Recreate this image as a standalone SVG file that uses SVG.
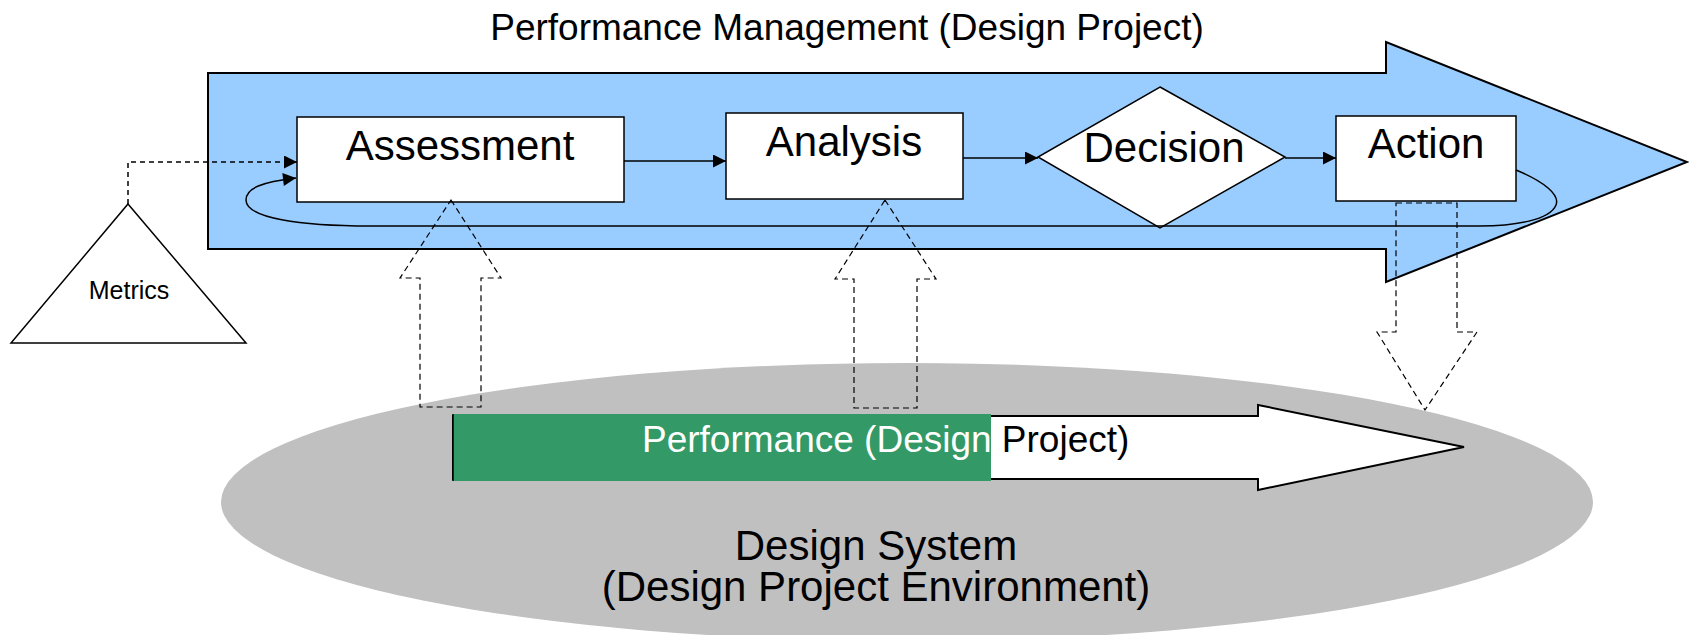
<svg xmlns="http://www.w3.org/2000/svg" width="1689" height="635" viewBox="0 0 1689 635">
<defs>
<style>
text{font-family:"Liberation Sans",Arial,sans-serif;fill:#000}
.box{fill:#fff;stroke:#000;stroke-width:1.5}
.lbl{font-size:42px;text-anchor:middle}
.conn{fill:none;stroke:#000;stroke-width:1.5}
.dash{fill:none;stroke:#000;stroke-width:1.2;stroke-dasharray:6,4}
</style>
<marker id="ah" viewBox="0 0 10 10" refX="10" refY="5" markerWidth="17" markerHeight="13" markerUnits="userSpaceOnUse" orient="auto">
<path d="M0,0 L10,5 L0,10 Z" fill="#000"/>
</marker>
</defs>
<rect width="1689" height="635" fill="#fff"/>
<text x="847" y="40" font-size="37" text-anchor="middle">Performance Management (Design Project)</text>
<g id="pm-arrow">
<polygon points="208,73 1386,73 1386,42 1687,162 1386,282 1386,249 208,249" fill="#99CCFF" stroke="#000" stroke-width="2"/>
</g>
<g id="design-system">
<ellipse cx="907" cy="502" rx="686" ry="139" fill="#C0C0C0"/>
<text class="lbl" x="876" y="560">Design System</text>
<text class="lbl" x="876" y="601">(Design Project Environment)</text>
</g>
<g id="performance-arrow">
<polygon points="453,416 1258,416 1258,405 1464,447 1258,490 1258,479 453,479" fill="#fff" stroke="#000" stroke-width="2"/>
<rect x="453" y="414" width="538" height="67" fill="#339966"/>
<line x1="453" y1="414" x2="453" y2="481" stroke="#000" stroke-width="1.5"/>
<text x="642" y="452" font-size="37"><tspan fill="#fff">Performance (Design</tspan><tspan fill="#000"> Project)</tspan></text>
</g>
<g id="assessment">
<rect class="box" x="297" y="117" width="327" height="85"/>
<text class="lbl" x="460" y="160">Assessment</text>
</g>
<g id="analysis">
<rect class="box" x="726" y="113" width="237" height="86"/>
<text class="lbl" x="844" y="156">Analysis</text>
</g>
<g id="decision">
<polygon class="box" points="1160,87 1285,157 1160,228 1038,157"/>
<text class="lbl" x="1164" y="162">Decision</text>
</g>
<g id="action">
<rect class="box" x="1336" y="116" width="180" height="85"/>
<text class="lbl" x="1426" y="158">Action</text>
</g>
<g id="metrics">
<polygon points="128,204 246,343 11,343" fill="#fff" stroke="#000" stroke-width="1.5"/>
<text x="129" y="299" font-size="25" text-anchor="middle">Metrics</text>
</g>
<g id="connectors">
<line class="conn" x1="624" y1="161" x2="726" y2="161" marker-end="url(#ah)"/>
<line class="conn" x1="963" y1="158" x2="1038" y2="158" marker-end="url(#ah)"/>
<line class="conn" x1="1285" y1="158" x2="1336" y2="158" marker-end="url(#ah)"/>
<path class="conn" d="M1516,170 C1545,182 1560,195 1556,205 C1550,220 1515,226 1480,226 L370,226 C300,226 246,218 246,200 C246,188 262,182 296,178" marker-end="url(#ah)"/>
<path class="conn" d="M128,204 L128,162 L297,162" stroke-dasharray="5,4" marker-end="url(#ah)"/>
<polygon class="dash" points="451,200 501,278 481,278 481,407 420,407 420,278 400,278"/>
<polygon class="dash" points="885,200 936,279 917,279 917,408 854,408 854,279 835,279"/>
<polygon class="dash" points="1396,203 1457,203 1457,332 1477,332 1425,410 1377,332 1396,332"/>
</g>
</svg>
